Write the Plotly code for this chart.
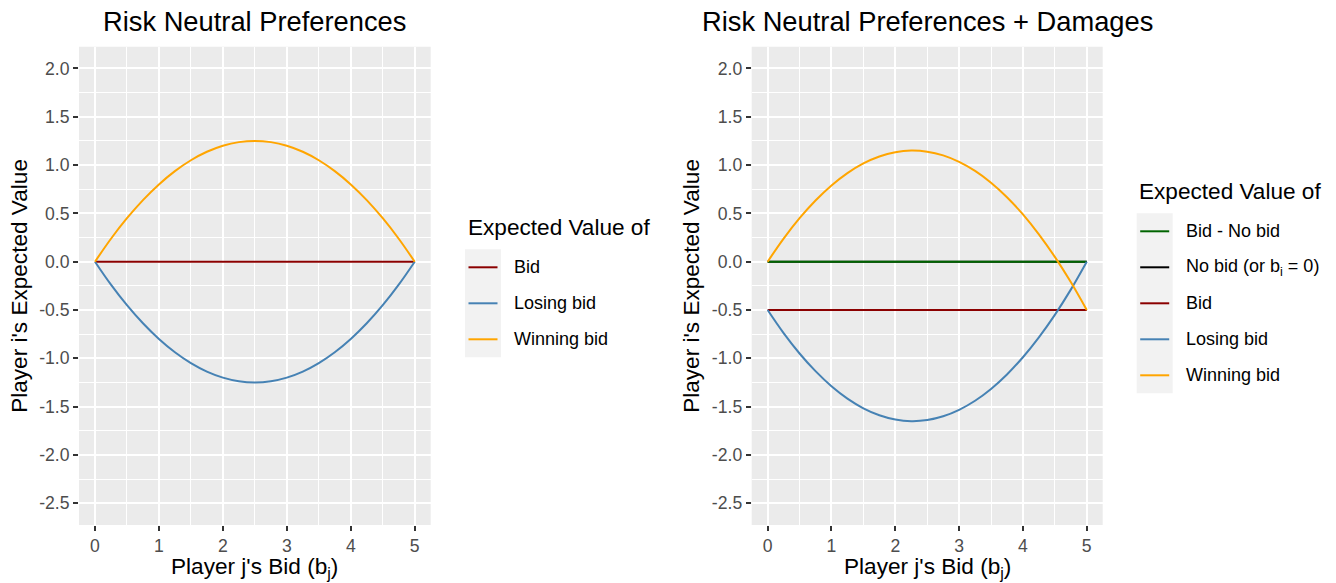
import plotly.graph_objects as go

W, H = 1336, 583

# ---------------- data ----------------
bids = [0, 0.25, 0.5, 0.75, 1, 1.25, 1.5, 1.75, 2, 2.25, 2.5,
        2.75, 3, 3.25, 3.5, 3.75, 4, 4.25, 4.5, 4.75, 5]

# left panel: risk neutral
left_winning = [0, 0.2375, 0.45, 0.6375, 0.80, 0.9375, 1.05, 1.1375, 1.20, 1.2375, 1.25,
                1.2375, 1.20, 1.1375, 1.05, 0.9375, 0.80, 0.6375, 0.45, 0.2375, 0]
left_losing = [0, -0.2375, -0.45, -0.6375, -0.80, -0.9375, -1.05, -1.1375, -1.20, -1.2375, -1.25,
               -1.2375, -1.20, -1.1375, -1.05, -0.9375, -0.80, -0.6375, -0.45, -0.2375, 0]
left_bid_x = [0, 5]
left_bid = [0, 0]

# right panel: risk neutral + damages
right_winning = [0, 0.239, 0.450, 0.633, 0.789, 0.917, 1.017, 1.089, 1.133, 1.150, 1.139,
                 1.100, 1.033, 0.939, 0.817, 0.667, 0.489, 0.283, 0.050, -0.211, -0.5]
right_losing = [-0.5, -0.739, -0.950, -1.133, -1.289, -1.417, -1.517, -1.589, -1.633, -1.650, -1.639,
                -1.600, -1.533, -1.439, -1.317, -1.167, -0.989, -0.783, -0.550, -0.289, 0]
right_flat_x = [0, 5]
right_bid = [-0.5, -0.5]
right_nobid = [0, 0]
right_bid_minus_nobid = [0, 0]

y_tickvals = [-2.5, -2.0, -1.5, -1.0, -0.5, 0.0, 0.5, 1.0, 1.5, 2.0]
y_ticktext = ["-2.5", "-2.0", "-1.5", "-1.0", "-0.5", "0.0", "0.5", "1.0", "1.5", "2.0"]
x_tickvals = [0, 1, 2, 3, 4, 5]

left_legend = ["Bid", "Losing bid", "Winning bid"]
left_colors = ["#8B0000", "#4682B4", "#FFA500"]
right_legend = ["Bid - No bid", "No bid (or b<sub>i</sub> = 0)", "Bid", "Losing bid", "Winning bid"]
right_colors = ["#006400", "#000000", "#8B0000", "#4682B4", "#FFA500"]

# ---------------- helpers ----------------
def px(x):
    return x / W

def py(y):
    return 1 - y / H

FONT = "Liberation Sans, Arial, sans-serif"
LW = 2

fig = go.Figure()

# left traces
fig.add_trace(go.Scatter(x=left_bid_x, y=left_bid, mode="lines", line=dict(color=left_colors[0], width=LW),
                         showlegend=False, xaxis="x", yaxis="y"))
fig.add_trace(go.Scatter(x=bids, y=left_losing, mode="lines", line=dict(color=left_colors[1], width=LW, shape="spline"),
                         showlegend=False, xaxis="x", yaxis="y"))
fig.add_trace(go.Scatter(x=bids, y=left_winning, mode="lines", line=dict(color=left_colors[2], width=LW, shape="spline"),
                         showlegend=False, xaxis="x", yaxis="y"))

# right traces
fig.add_trace(go.Scatter(x=right_flat_x, y=right_nobid, mode="lines", line=dict(color=right_colors[1], width=LW),
                         showlegend=False, xaxis="x2", yaxis="y2"))
fig.add_trace(go.Scatter(x=right_flat_x, y=right_bid_minus_nobid, mode="lines", line=dict(color=right_colors[0], width=LW),
                         showlegend=False, xaxis="x2", yaxis="y2"))
fig.add_trace(go.Scatter(x=right_flat_x, y=right_bid, mode="lines", line=dict(color=right_colors[2], width=LW),
                         showlegend=False, xaxis="x2", yaxis="y2"))
fig.add_trace(go.Scatter(x=bids, y=right_losing, mode="lines", line=dict(color=right_colors[3], width=LW, shape="spline"),
                         showlegend=False, xaxis="x2", yaxis="y2"))
fig.add_trace(go.Scatter(x=bids, y=right_winning, mode="lines", line=dict(color=right_colors[4], width=LW, shape="spline"),
                         showlegend=False, xaxis="x2", yaxis="y2"))

PLOT_TOP, PLOT_BOT = 46.7, 525.0
L_LEFT, L_RIGHT = 79.0, 430.7
R_LEFT, R_RIGHT = 751.7, 1102.7

def xaxis_cfg(dom):
    return dict(domain=[px(dom[0]), px(dom[1])], range=[-0.25, 5.25], tickmode="array",
                tickvals=x_tickvals, ticktext=[str(v) for v in x_tickvals],
                showgrid=True, gridcolor="white", gridwidth=1.8, zeroline=False, showline=False,
                ticks="outside", ticklen=5, tickwidth=1.5, tickcolor="#333333",
                tickfont=dict(family=FONT, size=17.6, color="#4D4D4D"),
                minor=dict(tick0=0, dtick=0.5, showgrid=True, gridcolor="white", gridwidth=0.9, ticks=""),
                fixedrange=True)

def yaxis_cfg(anchor):
    return dict(domain=[py(PLOT_BOT), py(PLOT_TOP)], range=[-2.725, 2.225], tickmode="array",
                tickvals=y_tickvals, ticktext=y_ticktext, anchor=anchor,
                showgrid=True, gridcolor="white", gridwidth=1.8, zeroline=False, showline=False,
                ticks="outside", ticklen=5, tickwidth=1.5, tickcolor="#333333",
                tickfont=dict(family=FONT, size=17.6, color="#4D4D4D"),
                minor=dict(tick0=0, dtick=0.25, showgrid=True, gridcolor="white", gridwidth=0.9, ticks=""),
                fixedrange=True)

xa1 = xaxis_cfg((L_LEFT, L_RIGHT)); xa1["anchor"] = "y"
xa2 = xaxis_cfg((R_LEFT, R_RIGHT)); xa2["anchor"] = "y2"

annotations = []
shapes = []

# panel backgrounds
for (a, b) in [(L_LEFT, L_RIGHT), (R_LEFT, R_RIGHT)]:
    shapes.append(dict(type="rect", xref="paper", yref="paper", x0=px(a), x1=px(b), y0=py(PLOT_BOT), y1=py(PLOT_TOP),
                       fillcolor="#EBEBEB", line=dict(width=0), layer="below"))

def txt(x, y, text, size, color="black", xanchor="center", angle=0):
    annotations.append(dict(x=px(x), y=py(y), xref="paper", yref="paper", text=text, showarrow=False,
                            xanchor=xanchor, yanchor="middle", textangle=angle,
                            font=dict(family=FONT, size=size, color=color)))

# titles
txt((L_LEFT + L_RIGHT) / 2, 21.5, "Risk Neutral Preferences", 27.3)
txt((R_LEFT + R_RIGHT) / 2, 21.5, "Risk Neutral Preferences + Damages", 27.3)
# axis titles
txt((L_LEFT + L_RIGHT) / 2, 567.5, "Player j's Bid (b<sub>j</sub>)", 22.6)
txt((R_LEFT + R_RIGHT) / 2, 567.5, "Player j's Bid (b<sub>j</sub>)", 22.6)
txt(20, (PLOT_TOP + PLOT_BOT) / 2, "Player i's Expected Value", 22.6, angle=-90)
txt(692, (PLOT_TOP + PLOT_BOT) / 2, "Player i's Expected Value", 22.6, angle=-90)

# manual legends
def legend(x0, title_y, key_top, labels, colors):
    txt(x0 + 0.5, title_y, "Expected Value of", 22.6, xanchor="left")
    n = len(labels)
    shapes.append(dict(type="rect", xref="paper", yref="paper", x0=px(x0), x1=px(x0 + 36),
                       y0=py(key_top + 36 * n), y1=py(key_top), fillcolor="#F2F2F2", line=dict(width=0)))
    for i, (lab, col) in enumerate(zip(labels, colors)):
        yc = key_top + 18 + 36 * i
        shapes.append(dict(type="line", xref="paper", yref="paper", x0=px(x0 + 3.5), x1=px(x0 + 32.5),
                           y0=py(yc), y1=py(yc), line=dict(color=col, width=LW)))
        txt(x0 + 47, yc, lab, 18, xanchor="left")

legend(465, 228, 249.3, left_legend, left_colors)
legend(1136.7, 191.5, 213.3, right_legend, right_colors)

fig.update_layout(
    width=W, height=H, autosize=False,
    margin=dict(l=0, r=0, t=0, b=0),
    paper_bgcolor="white", plot_bgcolor="rgba(0,0,0,0)",
    xaxis=xa1, yaxis=yaxis_cfg("x"),
    xaxis2=xa2, yaxis2=yaxis_cfg("x2"),
    annotations=annotations, shapes=shapes,
    showlegend=False,
    font=dict(family=FONT),
)

fig.write_html("out.html")
